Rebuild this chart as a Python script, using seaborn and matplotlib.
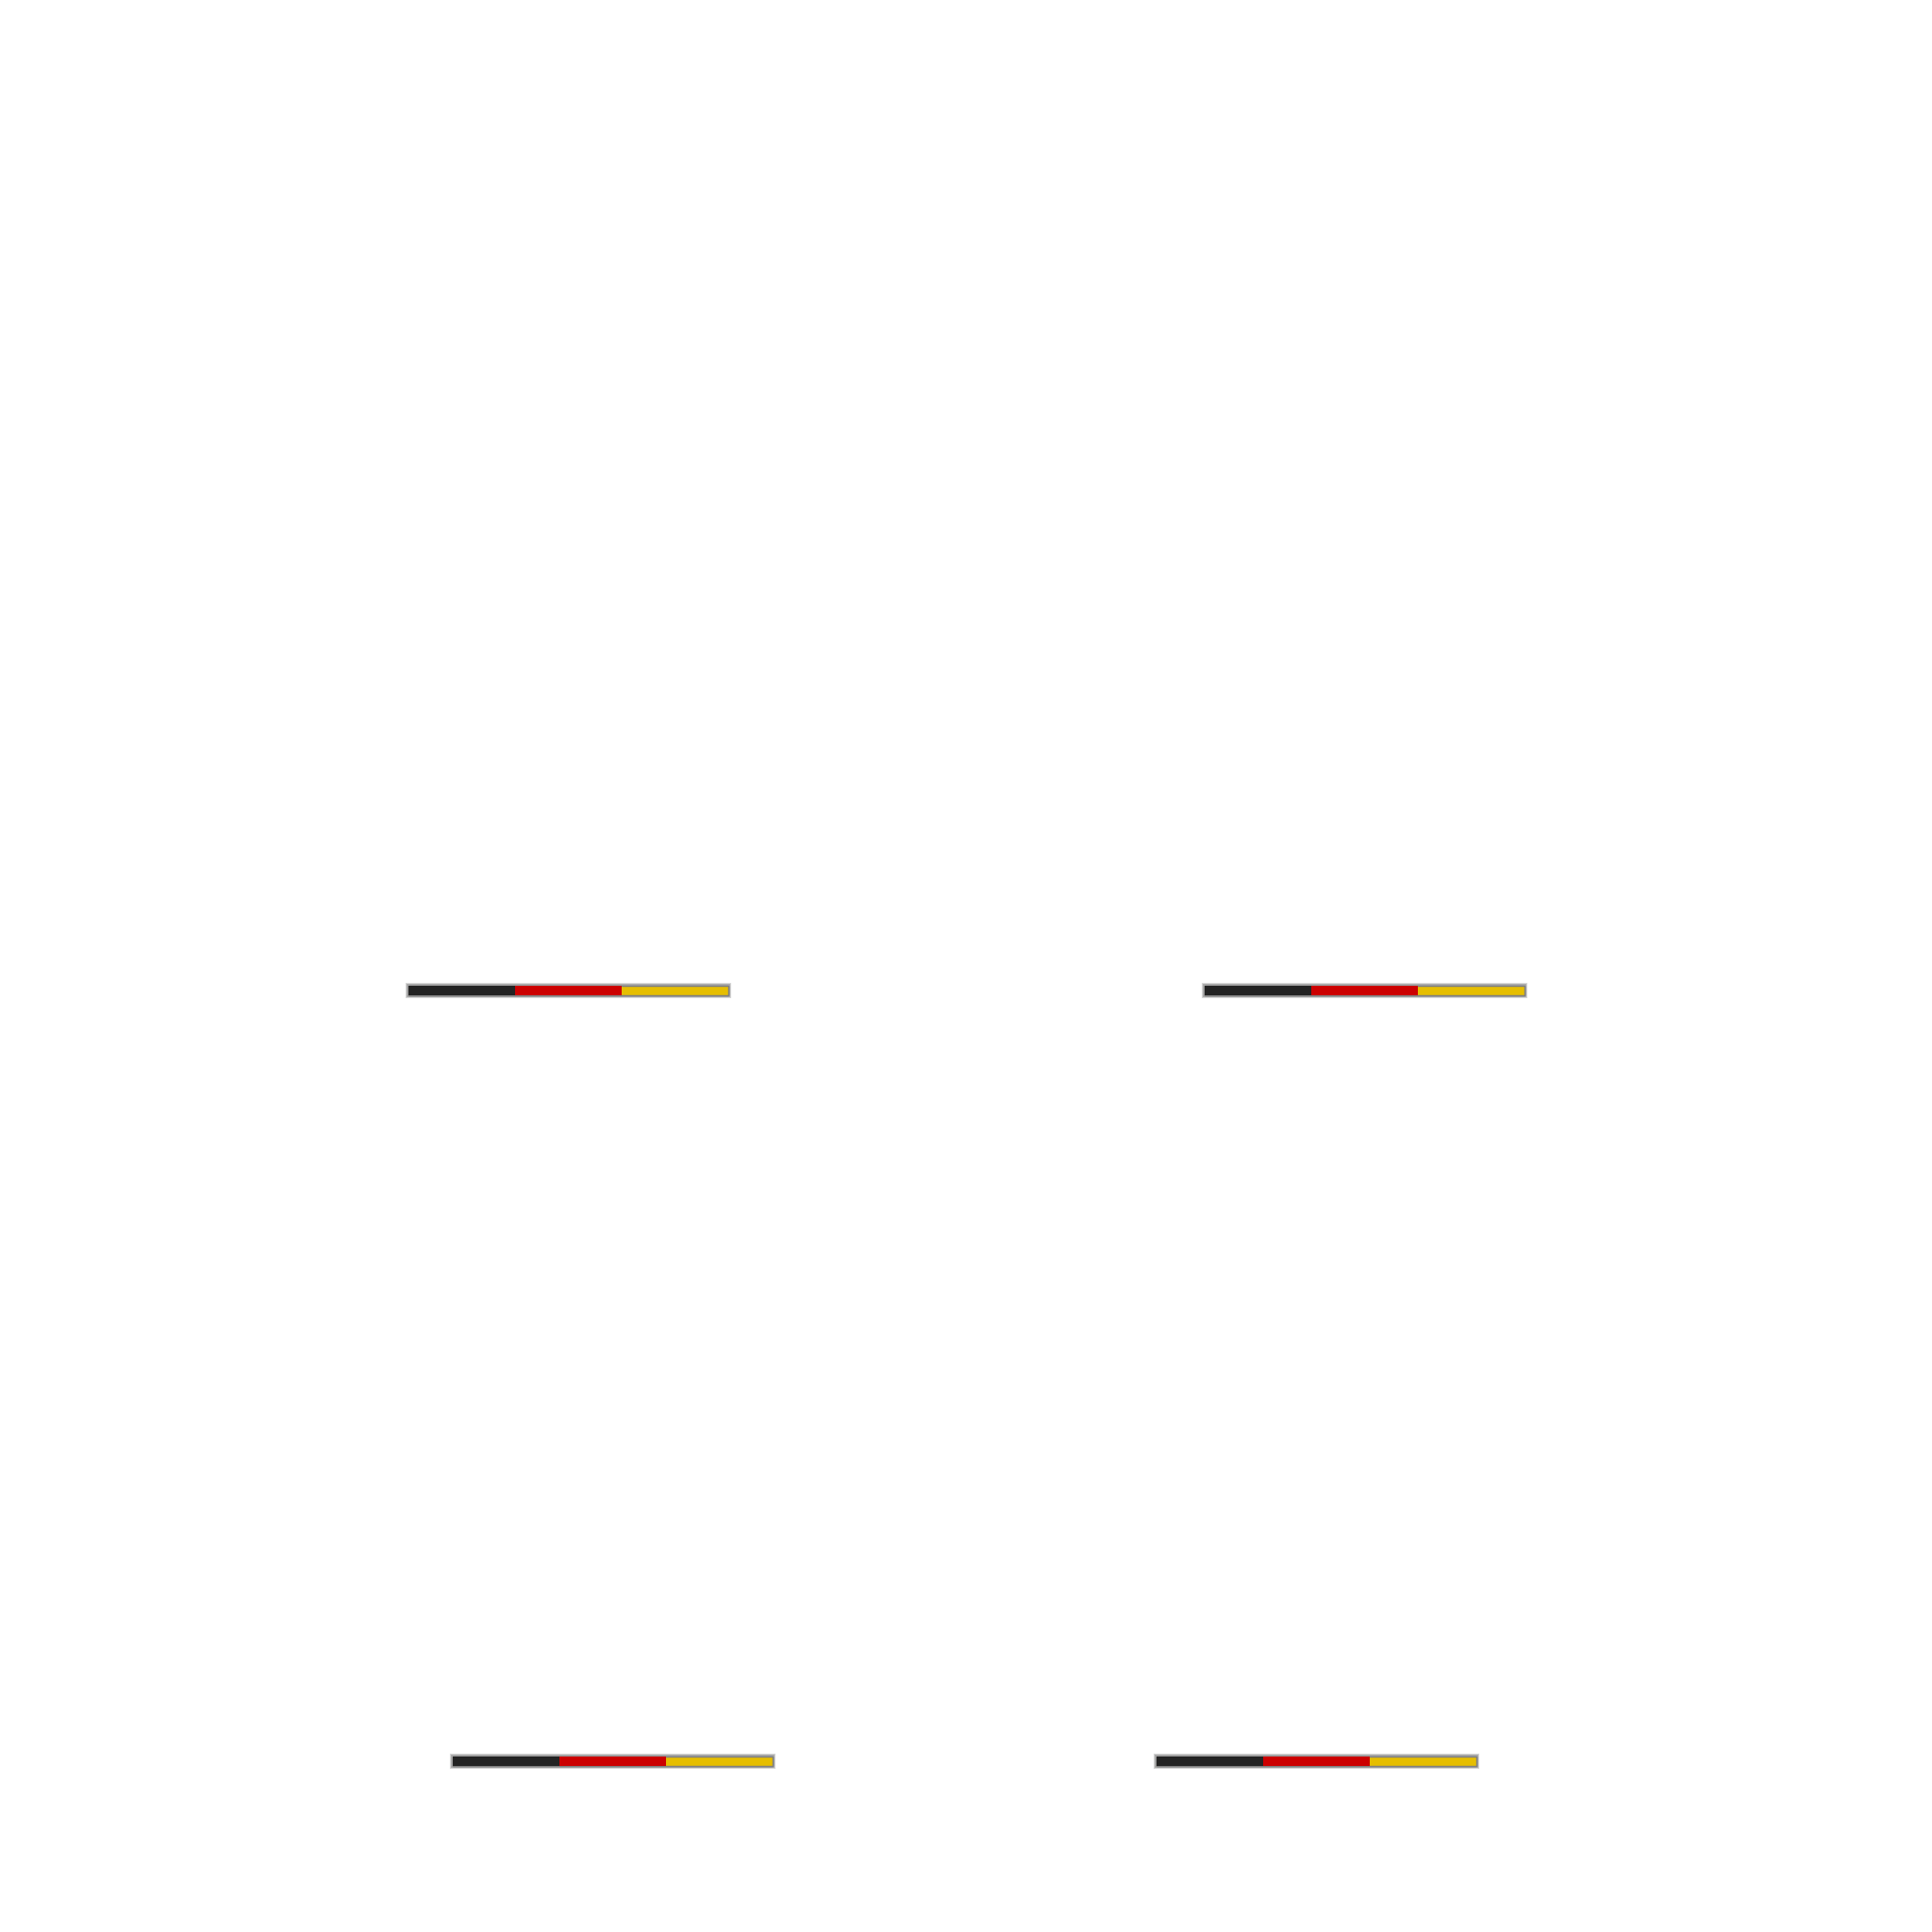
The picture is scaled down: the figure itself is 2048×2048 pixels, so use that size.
import pandas as pd
import matplotlib
matplotlib.use('Agg')
import matplotlib.pyplot as plt
import matplotlib.patheffects as pe
import seaborn as sns

# stripe shares of each flag bar (black, red, gold)
segments = ['Schwarz', 'Rot', 'Gold']
seg_colors = ['#232323', '#CC0000', '#E6BE00']
panel_values = [
    [1, 1, 1],
    [1, 1, 1],
    [1, 1, 1],
    [1, 1, 1],
]
# bar placement in pixels of the 2048 canvas: left, right, top, bottom
panel_boxes = [
    (433, 772, 1045, 1055),
    (1277, 1616, 1045, 1055),
    (480, 819, 1862, 1872),
    (1226, 1565, 1862, 1872),
]

W = 2048
sns.set_theme(style='white')
fig = plt.figure(figsize=(10.24, 10.24), dpi=200)
fig.patch.set_facecolor('white')

for vals, (x0, x1, y0, y1) in zip(panel_values, panel_boxes):
    pad = 15
    ax = fig.add_axes([x0 / W, 1 - (y1 + pad) / W, (x1 - x0) / W, (y1 - y0 + 2 * pad) / W])
    ax.set_facecolor('none')
    total = sum(vals)
    # draw cumulative bars from longest to shortest so they stack
    cum = pd.Series(vals).cumsum().tolist()
    for i in range(len(vals) - 1, -1, -1):
        df = pd.DataFrame({'len': [cum[i]], 'row': ['flag']})
        outer = i == len(vals) - 1
        sns.barplot(data=df, x='len', y='row', orient='h', ax=ax, width=1,
                    color=seg_colors[i], saturation=1,
                    edgecolor='#808080' if outer else 'none',
                    linewidth=0.5 if outer else 0)
        if outer:
            for p in ax.patches:
                p.set_path_effects([pe.withStroke(linewidth=2.2, foreground='#d4d4d4'),
                                    pe.withStroke(linewidth=1.4, foreground='#a8a8a8'),
                                    pe.Normal()])
    for p in ax.patches:
        p.set_clip_on(False)
    ax.set_xlim(0, total)
    half = (y1 - y0 + 2 * pad) / 10 / 2
    ax.set_ylim(half, -half)
    ax.set_axis_off()

fig.savefig('out.png', dpi=200, facecolor='white')
